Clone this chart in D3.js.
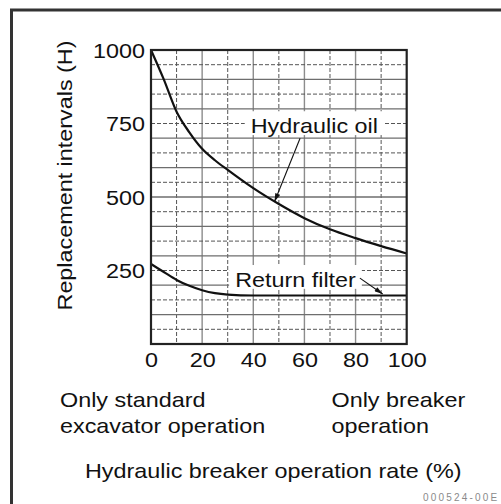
<!DOCTYPE html>
<html>
<head>
<meta charset="utf-8">
<script src="https://cdn.jsdelivr.net/npm/d3@7"></script>
<style>
  html, body { margin: 0; padding: 0; background: #fff; }
  svg { display: block; }
</style>
</head>
<body>
<script>
// Breaker operation rate (%) and the matching replacement intervals (hours)
const rates        = [0, 5, 10, 15, 20, 25, 30, 40, 50, 60, 70, 80, 90, 100];
const hydraulicOil = [1000, 900, 790, 720, 664, 625, 592, 530, 476, 428, 390, 360, 333, 308];
const returnFilter = [272, 245, 218, 198, 183, 173, 168, 165, 165, 165, 165, 165, 165, 165];

const xTickValues = [0, 20, 40, 60, 80, 100];
const yTickValues = [250, 500, 750, 1000];

// Callout labels: text, where the label sits and where its arrow points (data units)
const callouts = [
  { text: "Hydraulic oil", rate: 39, hours: 718, from: [58.3, 700], to: [48.3, 484] },
  { text: "Return filter", rate: 32.9, hours: 195, from: [81.7, 224], to: [90.6, 170] }
];

const W = 501, H = 504;
const FONT = '"Liberation Sans", Arial, Helvetica, sans-serif';
const FS = 20.5;     // font size
const SX = 1.14;     // horizontal stretch of the lettering
const INK = "#111";

const svg = d3.select("body").append("svg")
  .attr("width", W).attr("height", H);

const plot = { left: 151, right: 406.7, top: 50, bottom: 344 };
const x = d3.scaleLinear().domain([0, 100]).range([plot.left, plot.right]);
const y = d3.scaleLinear().domain([0, 1000]).range([plot.bottom, plot.top]);

// Outer frame (runs off the right and bottom edges)
svg.append("rect")
  .attr("x", 11.5).attr("y", 10)
  .attr("width", 600).attr("height", 600)
  .attr("fill", "none").attr("stroke", "#333").attr("stroke-width", 3);

// Grid
const grid = svg.append("g");
d3.range(10, 100, 10).forEach(v => {
  const solid = v % 20 === 0;
  grid.append("line")
    .attr("x1", x(v)).attr("x2", x(v))
    .attr("y1", plot.top).attr("y2", plot.bottom)
    .attr("stroke", solid ? "#8c8c8c" : "#555")
    .attr("stroke-width", solid ? 1.4 : 1)
    .attr("stroke-dasharray", solid ? null : "4,2");
});
d3.range(50, 1000, 50).forEach(v => {
  const solid = v % 100 === 0;
  grid.append("line")
    .attr("x1", plot.left).attr("x2", plot.right)
    .attr("y1", y(v)).attr("y2", y(v))
    .attr("stroke", solid ? "#6e6e6e" : "#555")
    .attr("stroke-width", solid ? 1.3 : 1)
    .attr("stroke-dasharray", solid ? null : "4,2");
});

// Label boxes and text (white boxes mask the grid behind the labels)
const labelLayer = svg.append("g");
callouts.forEach(c => {
  const g = labelLayer.append("g")
    .attr("transform", `translate(${x(c.rate)},${y(c.hours)}) scale(${SX},1)`);
  const bg = g.append("rect").attr("fill", "#fff");
  const t = g.append("text")
    .attr("x", 0).attr("y", 0)
    .style("font-family", FONT).style("font-size", FS + "px")
    .attr("fill", INK)
    .text(c.text);
  const b = t.node().getBBox();
  bg.attr("x", b.x - 6 / SX).attr("y", b.y - 3)
    .attr("width", b.width + 12 / SX).attr("height", b.height + 0.5);
});

// Curves
const line = d3.line()
  .x((d, i) => x(rates[i]))
  .y(d => y(d))
  .curve(d3.curveMonotoneX);

svg.append("path").datum(hydraulicOil)
  .attr("d", line).attr("fill", "none")
  .attr("stroke", INK).attr("stroke-width", 2.2);
svg.append("path").datum(returnFilter)
  .attr("d", line).attr("fill", "none")
  .attr("stroke", INK).attr("stroke-width", 2.2);

// Arrows from the labels to their curves
svg.append("defs").append("marker")
  .attr("id", "arrowhead")
  .attr("viewBox", "0 0 10 6")
  .attr("refX", 10).attr("refY", 3)
  .attr("markerWidth", 10).attr("markerHeight", 5)
  .attr("markerUnits", "userSpaceOnUse")
  .attr("orient", "auto")
  .append("path").attr("d", "M0,0 L10,3 L0,6 Z").attr("fill", INK);

callouts.forEach(c => {
  svg.append("line")
    .attr("x1", x(c.from[0])).attr("y1", y(c.from[1]))
    .attr("x2", x(c.to[0])).attr("y2", y(c.to[1]))
    .attr("stroke", INK).attr("stroke-width", 1.1)
    .attr("marker-end", "url(#arrowhead)");
});

// Plot border
svg.append("rect")
  .attr("x", plot.left).attr("y", plot.top)
  .attr("width", plot.right - plot.left).attr("height", plot.bottom - plot.top)
  .attr("fill", "none").attr("stroke", "#222").attr("stroke-width", 2.2);

// Axes (labels only)
const yAxis = svg.append("g")
  .attr("transform", `translate(${plot.left},0)`)
  .call(d3.axisLeft(y).tickValues(yTickValues).tickSize(0).tickPadding(6).tickFormat(d3.format("d")));
const xAxis = svg.append("g")
  .attr("transform", `translate(0,${plot.bottom})`)
  .call(d3.axisBottom(x).tickValues(xTickValues).tickSize(0).tickPadding(8).tickFormat(d3.format("d")));

[yAxis, xAxis].forEach(ax => {
  ax.select(".domain").remove();
  ax.selectAll("text")
    .style("font-family", FONT).style("font-size", FS + "px")
    .attr("fill", INK);
});
yAxis.selectAll("text")
  .attr("x", -6 / SX).attr("dy", "0.36em")
  .attr("transform", `scale(${SX},1)`);
xAxis.selectAll("text")
  .attr("transform", `scale(${SX},1)`);

// Stretched free text
function label(str, px, py, extra) {
  return svg.append("text")
    .attr("transform", `translate(${px},${py})${extra || ""} scale(${SX},1)`)
    .style("font-family", FONT).style("font-size", FS + "px")
    .attr("fill", INK)
    .text(str);
}

label("Replacement intervals (H)", 72, 175.5, " rotate(-90)").attr("text-anchor", "middle");
label("Only standard", 60, 406.5);
label("excavator operation", 60, 433);
label("Only breaker", 331.5, 406.5);
label("operation", 331.5, 433);
label("Hydraulic breaker operation rate (%)", 85, 478);

// Drawing reference code
svg.append("text")
  .attr("x", 423).attr("y", 501)
  .style("font-family", FONT).style("font-size", "10px")
  .style("letter-spacing", "2.2px")
  .attr("fill", "#8a8a8a")
  .text("000524-00E");
</script>
</body>
</html>
